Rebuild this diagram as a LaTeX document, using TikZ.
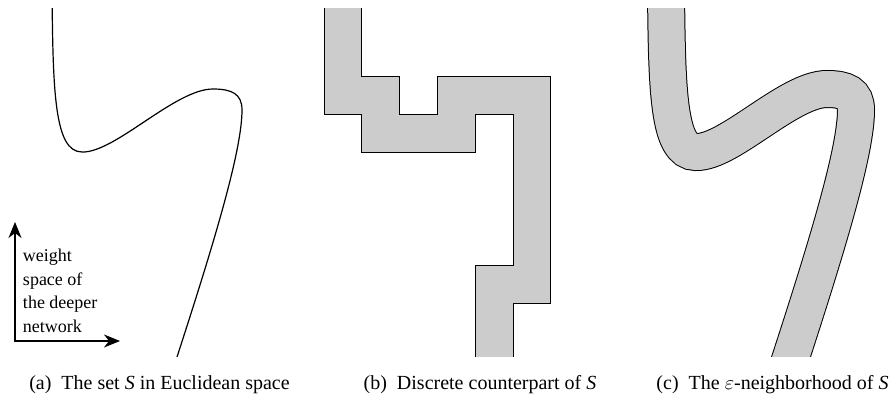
\documentclass[tikz,border=0pt]{standalone}
\usepackage{fontspec}
\setmainfont{Liberation Serif}
\usepackage{tikz}
\usetikzlibrary{arrows.meta, positioning}

\definecolor{fillgray}{gray}{0.8}

\tikzset{
  curve S/.style = {insert path = {(52,-10) .. controls (53,90) and (54,152) .. (82,152)
      .. controls (115,153) and (175,89) .. (213,89)
      .. controls (232,89) and (242,94) .. (242,110)
      .. controls (242,150) and (215,240) .. (177,357) -- (170.5,377)}},
  thin curve/.style = {draw, line width=0.6pt},
  nbhd/.style = {draw, line width=0.5pt, double=fillgray, double distance=18pt},
  cellbox/.style = {draw, fill=fillgray, line width=0.5pt, line join=miter},
  axis arrow/.style = {line width=0.6pt, {Stealth[length=8pt, width=6.5pt, inset=2.5pt]}-{Stealth[length=8pt, width=6.5pt, inset=2.5pt]}},
  axis label/.style = {inner sep=0pt, align=left, font=\fontsize{9}{11.75}\selectfont},
  subcap/.style = {inner sep=0pt, anchor=base, font=\fontsize{10}{12}\selectfont}
}

\begin{document}
\begin{tikzpicture}[x=0.5pt, y=-0.5pt]
\useasboundingbox (0,0) rectangle (896,396);

\begin{scope}
\clip (0,8.3) rectangle (896,356.7);
% (a) the set S
\draw[thin curve][curve S];
% (b) discrete counterpart, cells of 37.8
\begin{scope}[shift={(324,76.7)}, x=18.9pt, y=-18.9pt]
\draw[cellbox] (0,-3) -- (0,1) -- (1,1) -- (1,2) -- (4,2) -- (4,1) -- (5,1) -- (5,5) -- (4,5) -- (4,9)
  -- (5,9) -- (5,6) -- (6,6) -- (6,0) -- (3,0) -- (3,1) -- (2,1) -- (2,0) -- (1,0) -- (1,-3) -- cycle;
\end{scope}
% (c) eps-neighborhood
\begin{scope}[shift={(614,0)}]
\draw[nbhd][curve S];
\end{scope}
\end{scope}

% axes
\coordinate (origin) at (15,341);
\coordinate (ytip) at (15,222);
\coordinate (xtip) at (120,341);
\draw[axis arrow] (ytip) |- (xtip);
\node[axis label, above right=4pt and 3.8pt of origin] (wlabel) {weight\\space of\\the deeper\\network};

% captions
\node[subcap] (capa) at (159.5,389) {(a)\hspace{5pt}The set \textit{S} in Euclidean space};
\node[subcap] (capb) at (480,389) {(b)\hspace{5pt}Discrete counterpart of \textit{S}};
\node[subcap] (capc) at (772.5,389) {(c)\hspace{5pt}The $\varepsilon$-neighborhood of \textit{S}};
\end{tikzpicture}
\end{document}
